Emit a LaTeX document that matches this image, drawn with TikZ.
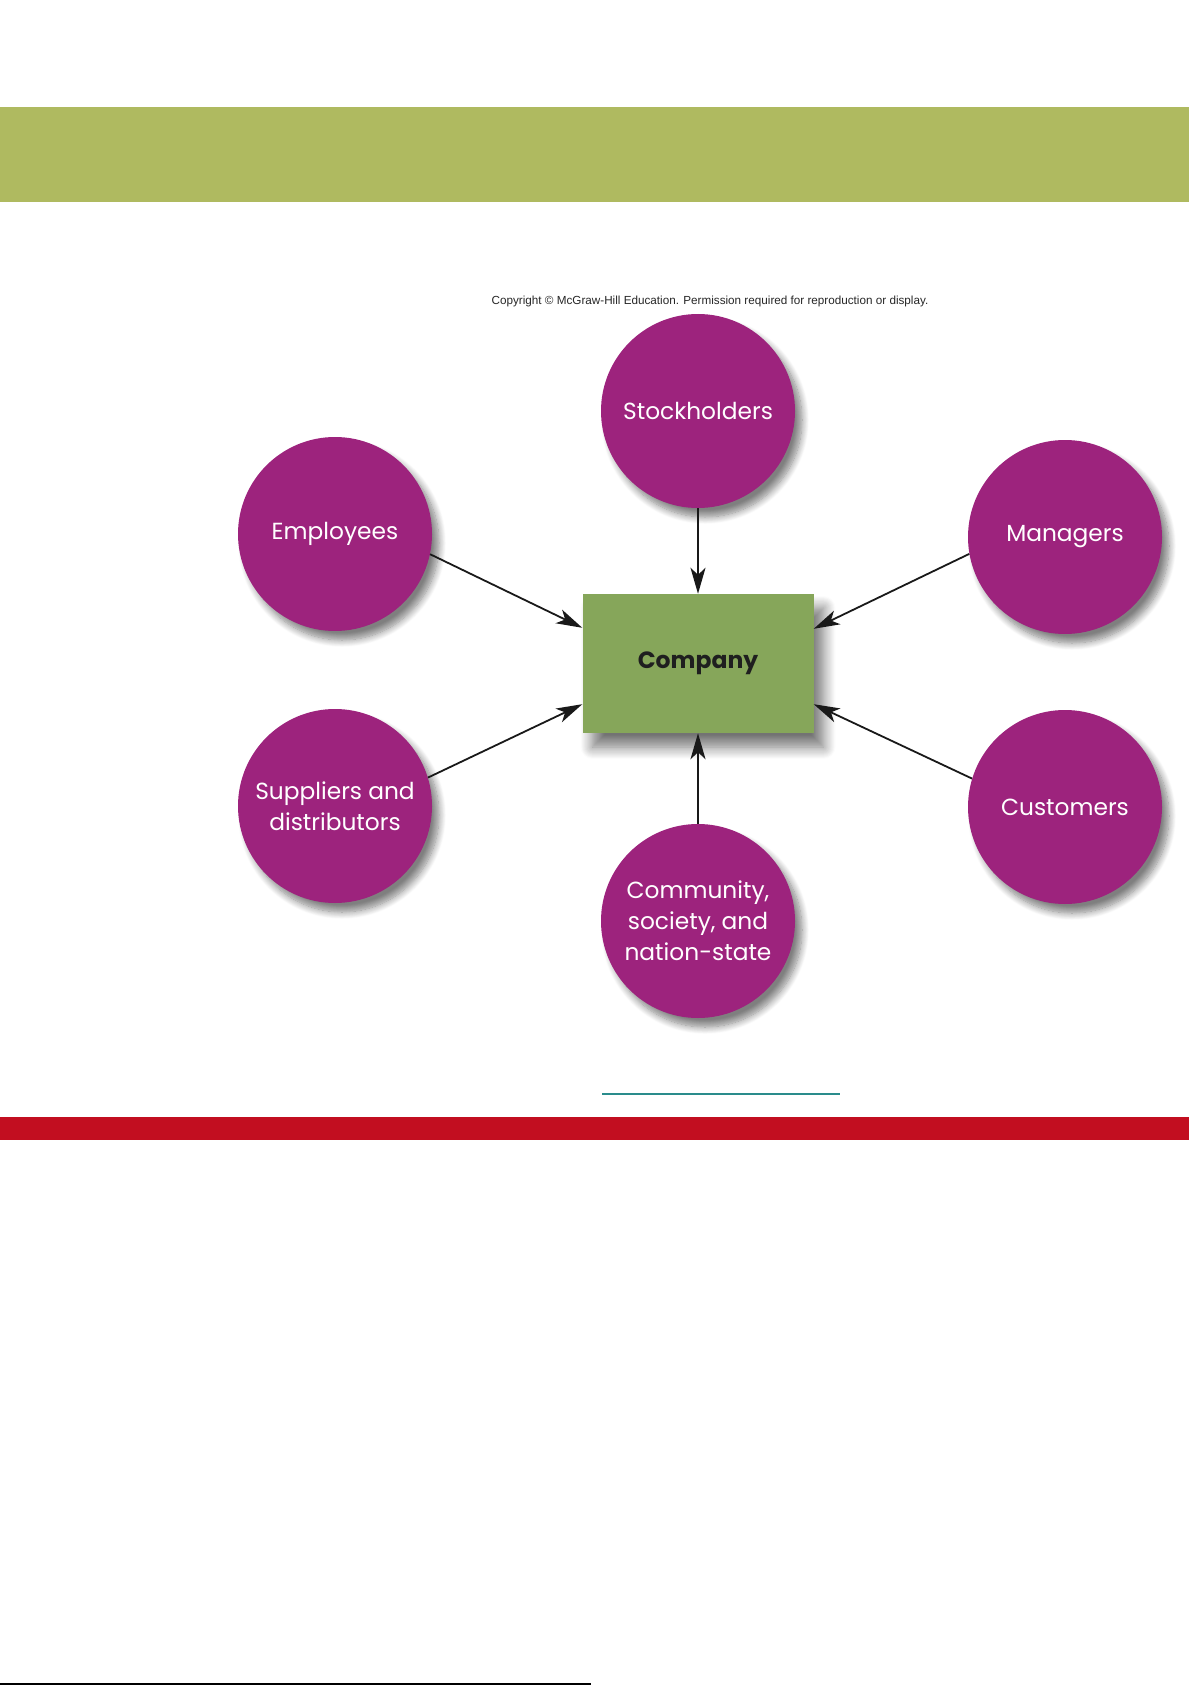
\documentclass[tikz,border=0pt]{standalone}
\usepackage{fontspec}
\setmainfont{Poppins}
\newfontfamily\arialfont{Liberation Sans}
\usetikzlibrary{arrows.meta, shadows.blur}
\definecolor{cpurple}{HTML}{9D237D}
\definecolor{cband}{HTML}{AFBA60}
\definecolor{cfirm}{HTML}{86A65A}
\definecolor{cred}{HTML}{C20E20}
\definecolor{cteal}{HTML}{2A8C8C}
\tikzset{
  stake/.style={circle, fill=cpurple, minimum size=194pt, inner sep=0pt, text=white, align=center,
    font=\fontsize{23.3}{31}\selectfont,
    blur shadow={shadow xshift=7pt, shadow yshift=-9pt, shadow blur radius=7pt, shadow blur steps=10, shadow opacity=50}},
  firm/.style={fill=cfirm, minimum width=231pt, minimum height=139pt, inner sep=0pt,
    font=\fontsize{23.5}{28}\selectfont\bfseries, text=black!88,
    blur shadow={shadow xshift=10pt, shadow yshift=-14pt, shadow blur radius=12pt, shadow blur steps=12, shadow opacity=55}},
  arrow/.style={-{Stealth[length=26pt, width=15pt, inset=7pt]}, draw=black!90, line width=1.8pt},
  bar/.style={draw=none},
}

\begin{document}
\begin{tikzpicture}[x=1pt, y=-1pt]
  \useasboundingbox (0,0) rectangle (1191,1685);
  % page bands
  \fill[bar, cband] (0,107) rectangle (1189,202);
  \fill[bar, cred] (0,1117) rectangle (1189,1140);
  \draw[cteal, line width=1.5pt] (602,1094) -- (840,1094);
  \draw[black, line width=1.5pt] (0,1684) -- (591,1684);
  \node[font=\arialfont\fontsize{11.7}{14}\selectfont, text=black!85] (copy) at (710,301)
    {Copyright \textcopyright\ McGraw-Hill Education. Permission required for reproduction or display.};
  % company and its stakeholders
  \node[firm] (company) at (698,663.5) {Company};
  \node[stake] (stock) at (698,411) {Stockholders};
  \node[stake] (empl) at (335,534) {Employees};
  \node[stake] (mgr) at (1065,537) {Managers};
  \node[stake] (supp) at (335,806) {Suppliers and\\distributors};
  \node[stake] (cust) at (1065,807) {Customers};
  \node[stake] (comm) at (698,921) {Community,\\society, and\\nation-state};
  \draw[arrow] (stock.south) -- (company.north);
  \draw[arrow] (comm.north) -- (company.south);
  \draw[arrow] (empl.-12) -- ([yshift=-34pt]company.north west);
  \draw[arrow] (mgr.-170) -- ([yshift=-35pt]company.north east);
  \draw[arrow] (supp.17) -- ([yshift=29pt]company.south west);
  \draw[arrow] (cust.163) -- ([yshift=29pt]company.south east);
\end{tikzpicture}
\end{document}
